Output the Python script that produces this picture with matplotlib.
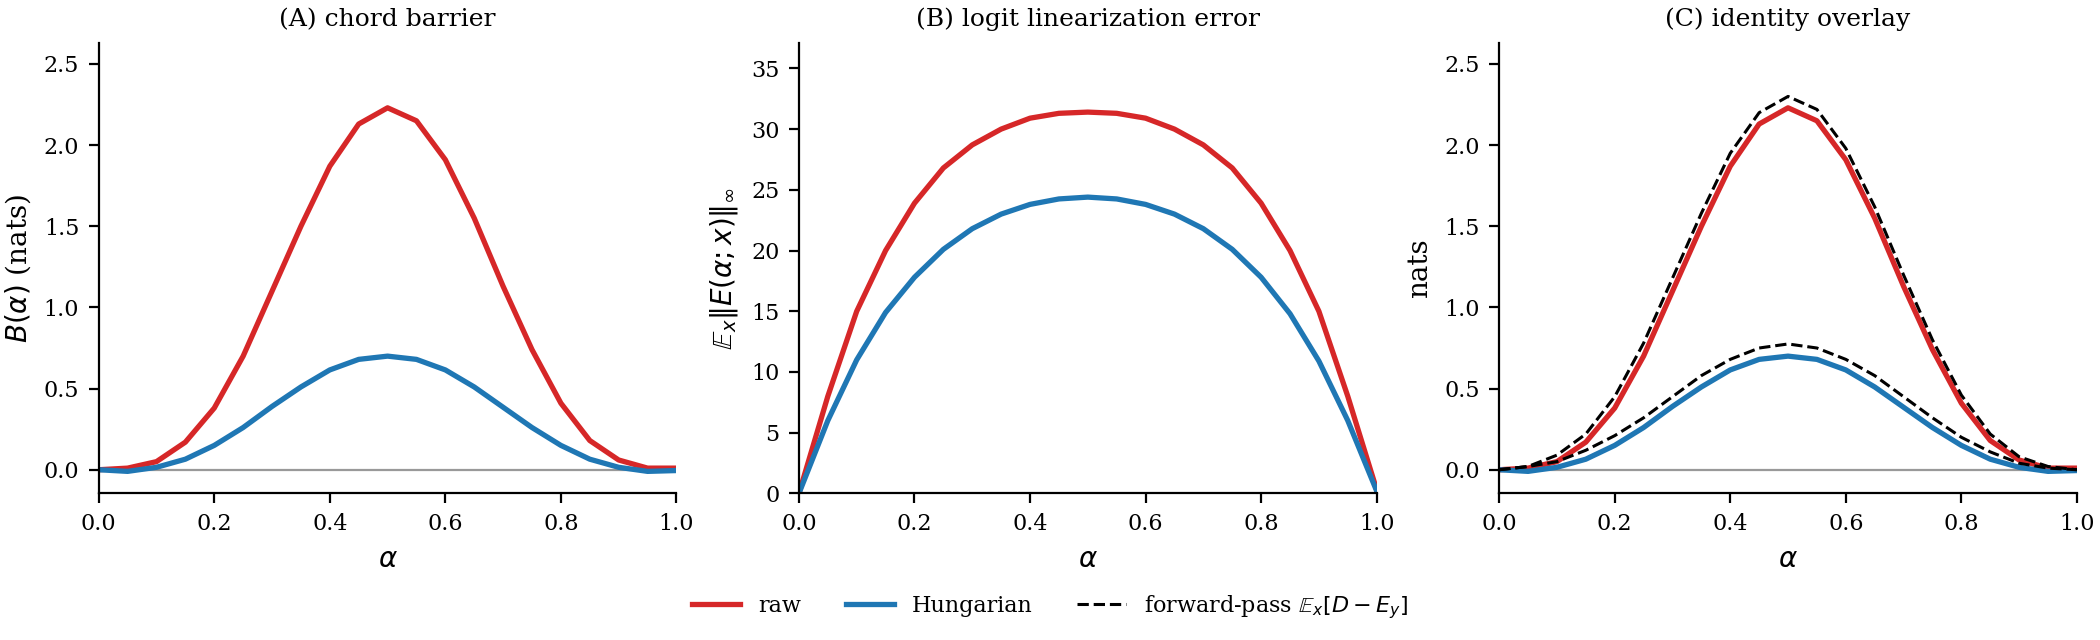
import numpy as np
import matplotlib
matplotlib.use("Agg")
import matplotlib.pyplot as plt

plt.rcParams['font.family'] = 'DejaVu Serif'
plt.rcParams['mathtext.fontset'] = 'dejavusans'
plt.rcParams['xtick.labelsize'] = 8
plt.rcParams['ytick.labelsize'] = 8
plt.rcParams['axes.labelsize'] = 10
plt.rcParams['axes.titlesize'] = 9
plt.rcParams['legend.fontsize'] = 8

alpha = np.round(np.arange(0, 1.0001, 0.05), 2)

# (A) chord barrier, nats
barrier_raw = [0.0, 0.01, 0.05, 0.17, 0.38, 0.70, 1.10, 1.50, 1.87, 2.13, 2.23,
               2.15, 1.91, 1.55, 1.13, 0.74, 0.41, 0.18, 0.06, 0.01, 0.01]
barrier_hung = [0.0, -0.01, 0.015, 0.065, 0.15, 0.26, 0.39, 0.51, 0.615, 0.68, 0.70,
                0.68, 0.615, 0.51, 0.385, 0.26, 0.15, 0.065, 0.015, -0.01, -0.005]

# (B) logit linearization error
err_raw = [0.0, 8.0, 15.0, 20.0, 23.9, 26.8, 28.7, 30.0, 30.9, 31.3, 31.4,
           31.3, 30.9, 30.0, 28.7, 26.8, 23.9, 20.0, 15.0, 8.0, 0.3]
err_hung = [0.0, 6.0, 11.0, 14.9, 17.8, 20.1, 21.8, 23.0, 23.8, 24.25, 24.4,
            24.25, 23.8, 23.0, 21.8, 20.1, 17.8, 14.8, 10.9, 6.0, 0.2]

# (C) forward-pass E_x[D - E_y]
fwd_raw = [0.0, 0.02, 0.09, 0.22, 0.45, 0.78, 1.18, 1.58, 1.95, 2.20, 2.30,
           2.22, 1.98, 1.62, 1.20, 0.80, 0.46, 0.22, 0.08, 0.02, 0.0]
fwd_hung = [0.0, 0.02, 0.05, 0.12, 0.21, 0.32, 0.45, 0.58, 0.68, 0.75, 0.775,
            0.75, 0.68, 0.58, 0.45, 0.32, 0.20, 0.11, 0.04, 0.01, 0.0]

red = '#d62728'
blue = '#1f77b4'

fig, axes = plt.subplots(1, 3, figsize=(10.5, 3.2), dpi=200)
fig.subplots_adjust(left=0.047, right=0.989, bottom=0.229, top=0.933, wspace=0.212)
ax1, ax2, ax3 = axes

ax1.axhline(0, color='0.6', lw=0.8, zorder=1)
ax1.plot(alpha, barrier_raw, color=red, lw=1.9, label='raw')
ax1.plot(alpha, barrier_hung, color=blue, lw=1.9, label='Hungarian')
ax1.set_ylim(-0.146, 2.63)
ax1.set_ylabel(r'$B(\alpha)$ (nats)')
ax1.set_title('(A) chord barrier')

ax2.plot(alpha, err_raw, color=red, lw=1.9)
ax2.plot(alpha, err_hung, color=blue, lw=1.9)
ax2.set_ylim(0, 37.1)
ax2.set_ylabel(r'$\mathbb{E}_x\|E(\alpha;x)\|_\infty$')
ax2.set_title('(B) logit linearization error')

ax3.axhline(0, color='0.6', lw=0.8, zorder=1)
ax3.plot(alpha, barrier_raw, color=red, lw=1.9)
ax3.plot(alpha, barrier_hung, color=blue, lw=1.9)
ax3.plot(alpha, fwd_raw, color='black', lw=1.1, ls='--',
         label=r'forward-pass $\mathbb{E}_x[D - E_y]$')
ax3.plot(alpha, fwd_hung, color='black', lw=1.1, ls='--')
ax3.set_ylim(-0.146, 2.63)
ax3.set_ylabel('nats')
ax3.set_title('(C) identity overlay')

for ax in axes:
    ax.set_xlim(0, 1)
    ax.set_xticks([0, 0.2, 0.4, 0.6, 0.8, 1.0])
    ax.set_xlabel(r'$\alpha$')
    ax.spines['top'].set_visible(False)
    ax.spines['right'].set_visible(False)

handles = ax1.get_legend_handles_labels()[0] + ax3.get_legend_handles_labels()[0]
labels = ax1.get_legend_handles_labels()[1] + ax3.get_legend_handles_labels()[1]
fig.legend(handles, labels, loc='center', bbox_to_anchor=(0.5, 0.052), ncol=3,
           frameon=False, columnspacing=2.0, handlelength=2.2)

fig.savefig('out.png', dpi=200)
